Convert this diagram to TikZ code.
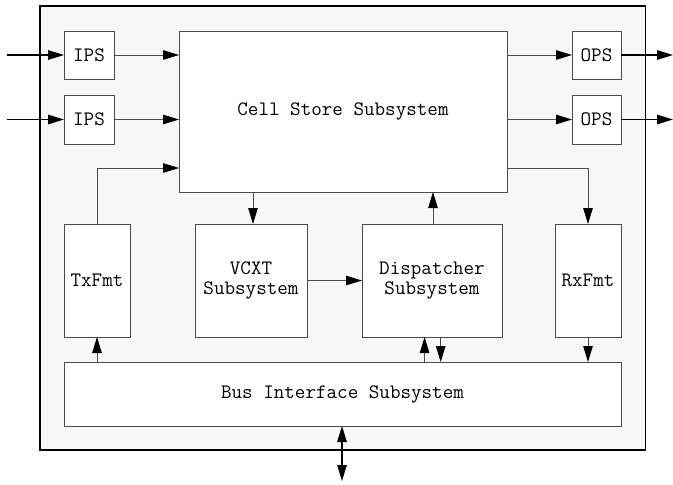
\documentclass[tikz,border=0pt]{standalone}
\usetikzlibrary{arrows.meta}
\definecolor{framefill}{HTML}{F7F7F7}
\definecolor{boxline}{HTML}{4A4A4A}
\begin{document}
\begin{tikzpicture}[x=1pt,y=-1pt,
  blk/.style={draw=boxline,line width=0.9pt,fill=white,inner sep=0pt,outer sep=0pt,
    font=\ttfamily\fontsize{20.5}{20.5}\selectfont,align=center},
  arr/.style={draw=boxline,line width=0.9pt,-{Triangle[length=16pt,width=9.5pt,color=black]}},
  extarr/.style={draw=black,line width=1.4pt,-{Triangle[length=16pt,width=9.5pt]}},
  bidir/.style={draw=black,line width=1.4pt,{Triangle[length=16pt,width=9.5pt]}-{Triangle[length=16pt,width=9.5pt]}}]
\useasboundingbox (0,0) rectangle (673,485);
\draw[fill=framefill,line width=1.4pt] (40,6) rectangle (645.5,450);
\node[blk,minimum width=50pt,minimum height=48pt] (ips1) at (89,55) {IPS};
\node[blk,minimum width=50pt,minimum height=49pt] (ips2) at (89,119.5) {IPS};
\node[blk,minimum width=328pt,minimum height=161pt] (cell) at (343,111.5) {Cell Store Subsystem};
\node[blk,minimum width=49pt,minimum height=48pt] (ops1) at (596.5,55) {OPS};
\node[blk,minimum width=49pt,minimum height=49pt] (ops2) at (596.5,119.5) {OPS};
\node[blk,minimum width=66pt,minimum height=113pt] (tx) at (97,280.5) {TxFmt};
\node[blk,minimum width=112pt,minimum height=113pt] (vcxt) at (251,280.5) {VCXT\\Subsystem};
\node[blk,minimum width=140pt,minimum height=113pt] (disp) at (432,280.5) {Dispatcher\\Subsystem};
\node[blk,minimum width=66pt,minimum height=113pt] (rx) at (588,280.5) {RxFmt};
\node[blk,minimum width=557pt,minimum height=64pt] (bus) at (342.5,394) {Bus Interface Subsystem};
\coordinate (in1) at (7,55);
\coordinate (in2) at (7,119.5);
\coordinate (out1) at (673,55);
\coordinate (out2) at (673,119.5);
\coordinate (bot) at (342,481);
% external
\draw[extarr] (in1) -- (ips1.west);
\draw[extarr] (in2) -- (ips2.west);
\draw[extarr] (ops1.east) -- (out1);
\draw[extarr] (ops2.east) -- (out2);
\draw[bidir] (bus.south -| bot) -- (bot);
% internal
\draw[arr] (ips1.east) -- (ips1.east -| cell.west);
\draw[arr] (ips2.east) -- (ips2.east -| cell.west);
\draw[arr] (ops1.west -| cell.east) -- (ops1.west);
\draw[arr] (ops2.west -| cell.east) -- (ops2.west);
\coordinate (txup) at (97,168);
\draw[arr] (tx.north) -- (txup) -- (txup -| cell.west);
\coordinate (rxr) at (588,168);
\draw[arr] (rxr -| cell.east) -- (rxr) -- (rx.north);
\coordinate (cv) at (253,192);
\draw[arr] (cv) -- (cv |- vcxt.north);
\coordinate (dc) at (433,192);
\draw[arr] (dc |- disp.north) -- (dc);
\draw[arr] (vcxt.east) -- (disp.west);
\draw[arr] (bus.north -| tx.south) -- (tx.south);
\coordinate (dup) at (424.6,337);
\coordinate (ddn) at (440.7,337);
\draw[arr] (dup |- bus.north) -- (dup);
\draw[arr] (ddn) -- (ddn |- bus.north);
\draw[arr] (rx.south) -- (rx.south |- bus.north);
\end{tikzpicture}
\end{document}
